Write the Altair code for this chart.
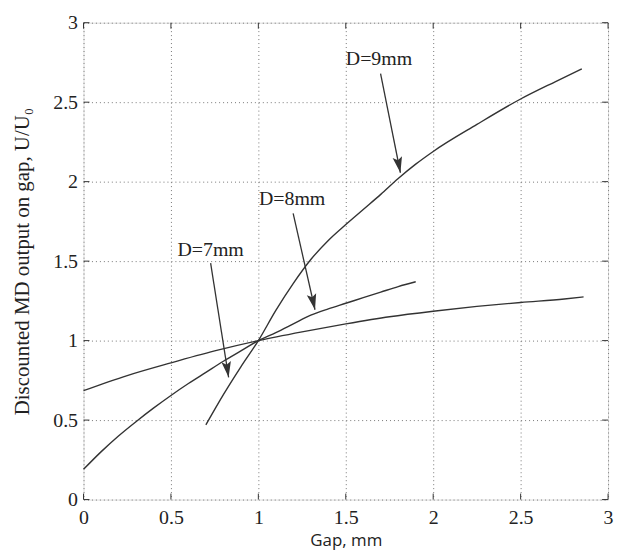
import altair as alt
import pandas as pd

# Axis ticks
X_TICKS = [0, 0.5, 1, 1.5, 2, 2.5, 3]
Y_TICKS = [0, 0.5, 1, 1.5, 2, 2.5, 3]

# Curves
flat_x = [0, 0.25, 0.5, 0.75, 1.0, 1.25, 1.5, 1.75, 2.0, 2.25, 2.5, 2.75, 2.86]
flat_y = [0.685, 0.78, 0.86, 0.935, 1.0, 1.055, 1.105, 1.15, 1.185, 1.215, 1.24, 1.262, 1.275]

mid_x = [0, 0.1, 0.2, 0.3, 0.4, 0.5, 0.6, 0.7, 0.8, 0.9, 1.0, 1.1, 1.2, 1.3, 1.4, 1.5, 1.6, 1.7, 1.8, 1.9]
mid_y = [0.19, 0.30, 0.40, 0.49, 0.575, 0.655, 0.73, 0.80, 0.87, 0.935, 1.0, 1.05, 1.105, 1.16, 1.2, 1.235, 1.27, 1.305, 1.34, 1.37]

steep_x = [0.70, 0.8, 0.9, 1.0, 1.1, 1.2, 1.3, 1.4, 1.5, 1.6, 1.7, 1.8, 1.9, 2.0, 2.25, 2.5, 2.7, 2.85]
steep_y = [0.47, 0.66, 0.835, 1.0, 1.19, 1.36, 1.51, 1.63, 1.73, 1.825, 1.92, 2.02, 2.11, 2.19, 2.36, 2.52, 2.63, 2.71]

# Annotations
labels = ["D=9mm", "D=8mm", "D=7mm"]
label_x = [1.69, 1.193, 0.727]
label_y = [2.77, 1.8875, 1.569]
arrow_x0 = [1.699, 1.199, 0.727]
arrow_y0 = [2.68, 1.80, 1.4875]
arrow_x1 = [1.8125, 1.324, 0.83]
arrow_y1 = [2.056, 1.194, 0.769]
arrow_angle = [348.7, 347.2, 351.1]

SERIF = "Liberation Serif"
INK = "#333333"

rows = []
for name, xs, ys in [("flat", flat_x, flat_y), ("mid", mid_x, mid_y), ("steep", steep_x, steep_y)]:
    for i, (a, b) in enumerate(zip(xs, ys)):
        rows.append({"series": name, "x": a, "y": b, "order": i})
curves = pd.DataFrame(rows)

ann = pd.DataFrame({
    "label": labels, "lx": label_x, "ly": label_y,
    "x0": arrow_x0, "y0": arrow_y0, "x1": arrow_x1, "y1": arrow_y1,
    "angle": arrow_angle,
})

xscale = alt.Scale(domain=[0, 3], nice=False, zero=False)
yscale = alt.Scale(domain=[0, 3], nice=False, zero=False)

xaxis = alt.Axis(values=X_TICKS, format="~g", title="Gap, mm", titleFont="Open Sans", titleFontSize=17,
                 titleFontWeight="normal", titleColor="#222", titlePadding=5,
                 labelFont=SERIF, labelFontSize=20, labelColor="#222", labelPadding=8,
                 ticks=False, tickSize=0, domain=False, grid=True,
                 gridDash=[1, 3], gridColor="#777", gridWidth=1, labelFlush=False)
yaxis = alt.Axis(values=Y_TICKS, format="~g", title="Discounted MD output on gap, U/U₀", titleFont=SERIF,
                 titleFontSize=21, titleFontWeight="normal", titleColor="#222", titlePadding=20,
                 labelFont=SERIF, labelFontSize=20, labelColor="#222", labelPadding=6,
                 ticks=False, tickSize=0, domain=False, grid=True,
                 gridDash=[1, 3], gridColor="#777", gridWidth=1, labelFlush=False)

base = alt.Chart(curves)
lines = base.mark_line(color=INK, strokeWidth=1.4, interpolate="monotone").encode(
    x=alt.X("x:Q", scale=xscale, axis=xaxis),
    y=alt.Y("y:Q", scale=yscale, axis=yaxis),
    detail="series:N",
    order="order:Q",
)

shafts = alt.Chart(ann).mark_rule(color=INK, strokeWidth=1.3).encode(
    x=alt.X("x0:Q", scale=xscale), y=alt.Y("y0:Q", scale=yscale),
    x2="x1:Q", y2="y1:Q",
)
heads = alt.Chart(ann).mark_point(
    shape="M0,0L-0.6,-2L0,-1.6L0.6,-2Z", size=256, filled=True, color=INK, opacity=1,
).encode(
    x=alt.X("x1:Q", scale=xscale), y=alt.Y("y1:Q", scale=yscale),
    angle=alt.Angle("angle:Q", scale=None),
)
texts = alt.Chart(ann).mark_text(font=SERIF, fontSize=20, color="#222").encode(
    x=alt.X("lx:Q", scale=xscale), y=alt.Y("ly:Q", scale=yscale), text="label:N",
)

tick_df_x = pd.DataFrame({"v": X_TICKS})
tick_df_y = pd.DataFrame({"v": Y_TICKS})


def tickmarks(df, shape, horizontal, fixed):
    ch = alt.Chart(df).mark_point(shape=shape, size=36, filled=False, stroke=INK,
                                  strokeWidth=1, opacity=1)
    if horizontal:
        return ch.encode(x=alt.X("v:Q", scale=xscale), y=alt.value(fixed))
    return ch.encode(y=alt.Y("v:Q", scale=yscale), x=alt.value(fixed))


t_bottom = tickmarks(tick_df_x, "M0,0V-2", True, 480)
t_top = tickmarks(tick_df_x, "M0,0V2", True, 0)
t_left = tickmarks(tick_df_y, "M0,0H2", False, 0)
t_right = tickmarks(tick_df_y, "M0,0H-2", False, 528)

chart = alt.layer(lines, shafts, heads, texts, t_bottom, t_top, t_left, t_right).properties(
    width=528, height=480,
    autosize=alt.AutoSizeParams(type="none"),
    padding={"left": 76, "top": 13, "right": 8, "bottom": 52},
).configure_view(stroke="#444", strokeWidth=1.6).configure(background="white")

chart.save("out.html", embed_options={"renderer": "svg", "actions": False})
